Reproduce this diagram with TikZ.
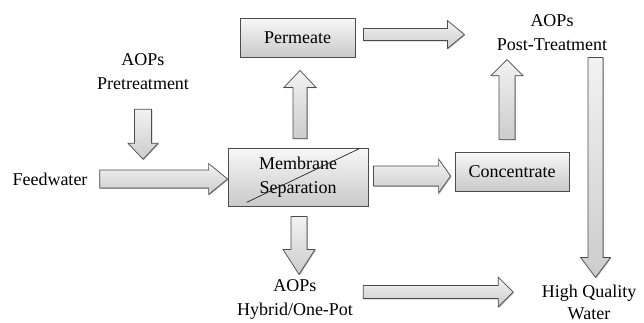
\documentclass[tikz,border=0pt]{standalone}
\usepackage{fontspec}
\setmainfont{Liberation Serif}
\usepackage{tikz}
\usetikzlibrary{calc}
\usetikzlibrary{shadows}

% block arrow: from, to, shaft half width, head half width, head length
\newcommand{\fatarrow}[5]{%
  \path[fat] let \p1=(#1), \p2=(#2),
    \n1={veclen(\x2-\x1,\y2-\y1)}, \n2={atan2(\y2-\y1,\x2-\x1)} in
    {[shift={(\p1)}, rotate=\n2]
    (0pt,#3) -- (\n1-#5,#3) -- (\n1-#5,#4) -- (\n1,0pt) -- (\n1-#5,-#4)
    -- (\n1-#5,-#3) -- (0pt,-#3) -- cycle};}

\begin{document}
\begin{tikzpicture}[x=1pt,y=-1pt,font=\fontsize{18}{24}\selectfont]
  \tikzset{box/.style = {draw=black!70,line width=0.8pt,top color=gray!6,bottom color=gray!42,
      align=center,inner sep=0pt,
      drop shadow={shadow xshift=1.2pt,shadow yshift=-1.2pt,opacity=0.55,fill=black!70}}}
  \tikzset{lbl/.style = {align=center,inner sep=0pt}}
  \tikzset{fat/.style = {draw=black!70,line width=0.7pt,top color=gray!10,bottom color=gray!40,
      drop shadow={shadow xshift=0.8pt,shadow yshift=-0.8pt,opacity=0.45,fill=black!70}}}

  \useasboundingbox (0,0) rectangle (644,322);

  \node[box,minimum width=115pt,minimum height=39pt] (perm) at (297.5,37.5) {Permeate};
  \node[box,minimum width=140pt,minimum height=58pt] (memb) at (298,177) {Membrane\\Separation};
  \node[box,minimum width=114pt,minimum height=39pt] (conc) at (512,171.5) {Concentrate};

  \node[lbl] (pre) at (143,72) {AOPs\\Pretreatment};
  \node[lbl] (post) at (552,33) {AOPs\\Post-Treatment};
  \node[lbl] (feed) at (50,179) {Feedwater};
  \node[lbl] (hyb) at (295,299) {AOPs\\Hybrid/One-Pot};
  \node[lbl,font=\fontsize{18}{22}\selectfont] (hqw) at (589,302) {High Quality\\Water};

  \draw[black!85,line width=0.7pt] ($(memb.south west)+(19,-4)$) -- ($(memb.north east)+(-9,1)$);

  \fatarrow{$(feed.east)+(12,0)$}{feed.east -| memb.west}{9pt}{15.5pt}{19pt}
  \fatarrow{$(pre.south)+(0,19)$}{$(pre.south)+(0,69)$}{8.5pt}{15pt}{16pt}
  \fatarrow{$(memb.north)+(2,-9)$}{$(perm.south)+(2.5,13)$}{7pt}{16pt}{17pt}
  \fatarrow{$(perm.east)+(8,-3)$}{$(perm.east)+(109,-3)$}{6pt}{14pt}{17pt}
  \fatarrow{$(memb.east)+(5,-1)$}{$(memb.east -| conc.west)+(-4,-1)$}{10pt}{17pt}{12pt}
  \fatarrow{$(memb.south)+(1,10)$}{$(memb.south)+(1,68)$}{8pt}{16pt}{25pt}
  \fatarrow{$(conc.north)+(-5,-12)$}{$(conc.north)+(-5,-92)$}{8pt}{16pt}{16pt}
  \fatarrow{$(hqw.north)+(6.5,-227)$}{$(hqw.north)+(6.5,-7)$}{7.5pt}{15pt}{20pt}
  \fatarrow{$(hyb.east)+(10,-7)$}{$(hyb.east)+(160,-7)$}{6.5pt}{15pt}{15pt}
\end{tikzpicture}
\end{document}
